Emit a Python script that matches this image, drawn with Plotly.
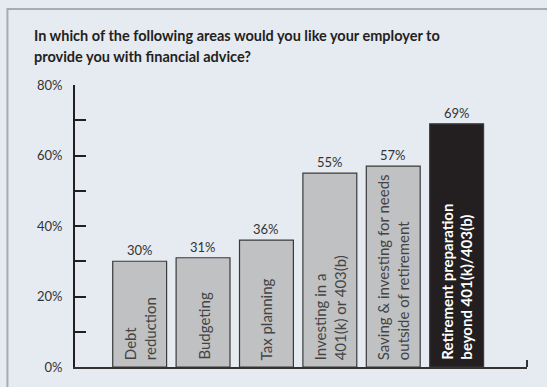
import plotly.graph_objects as go

# Survey results: share of respondents wanting employer-provided advice per area
categories = [
    "Debt<br>reduction",
    "Budgeting",
    "Tax planning",
    "Investing in a<br>401(k) or 403(b)",
    "Saving & investing for needs<br>outside of retirement",
    "Retirement preparation<br>beyond 401(k)/403(b)",
]
values = [30, 31, 36, 55, 57, 69]
highlight = [False, False, False, False, False, True]

title_lines = [
    "In which of the following areas would you like your employer to",
    "provide you with financial advice?",
]
tick_values = [0, 10, 20, 30, 40, 50, 60, 70, 80]
tick_labels = ["0%", "", "20%", "", "40%", "", "60%", "", "80%"]

BG = "#e6eaf1"
INK = "#231f20"
GREY_BAR = "#c0c1c3"

bar_colors = [INK if h else GREY_BAR for h in highlight]

fig = go.Figure(
    go.Bar(
        x=categories,
        y=values,
        marker=dict(color=bar_colors, line=dict(color="#3a3a3a", width=1.2)),
        hoverinfo="skip",
    )
)

annotations = []
# value labels above each bar
for cat, val in zip(categories, values):
    annotations.append(dict(
        x=cat, y=val, xref="x", yref="y", text=f"{val}%",
        showarrow=False, yanchor="bottom", xanchor="center", yshift=1,
        font=dict(family="Lato", size=13, color="#333333"),
    ))
# rotated category labels inside the bars
for cat, h in zip(categories, highlight):
    annotations.append(dict(
        x=cat, y=0, xref="x", yref="y", text=cat,
        showarrow=False, textangle=-90, align="left",
        yanchor="bottom", xanchor="center", yshift=5,
        font=dict(family="Lato", size=15,
                  color="#ffffff" if h else "#444444",
                  weight="bold" if h else "normal"),
    ))
# two-line heading
for i, line in enumerate(title_lines):
    annotations.append(dict(
        x=-0.0941, y=1.177 - i * 0.075, xref="paper", yref="paper",
        text=line, showarrow=False, xanchor="left", yanchor="middle",
        font=dict(family="Lato", size=14.5, color=INK, weight="bold"),
    ))

shapes = [
    # panel frame (left and top edges)
    dict(type="path", xref="paper", yref="paper",
         path="M -0.1495,-0.2 L -0.1495,1.2695 L 1.1,1.2695",
         line=dict(color="#a9abae", width=2)),
    # small upturned end of the baseline
    dict(type="line", xref="paper", yref="y", x0=1, x1=1, y0=0, y1=2,
         line=dict(color="#333333", width=2)),
]

fig.update_layout(
    width=547, height=387, autosize=False,
    margin=dict(l=75, r=20, t=85, b=20),
    paper_bgcolor=BG, plot_bgcolor=BG,
    bargap=0.15, showlegend=False,
    annotations=annotations, shapes=shapes,
    xaxis=dict(
        range=[-1.02, 6.11], showgrid=False, zeroline=False,
        showticklabels=False, ticks="",
        showline=True, linecolor="#333333", linewidth=2,
    ),
    yaxis=dict(
        range=[0, 80], showgrid=False, zeroline=False,
        tickmode="array", tickvals=tick_values, ticktext=tick_labels,
        ticks="inside", ticklen=11, tickwidth=2, tickcolor=INK,
        showline=True, linecolor=INK, linewidth=2,
        ticklabelstandoff=8,
        tickfont=dict(family="Lato", size=13, color="#333333"),
    ),
)

fig.write_html("out.html")
